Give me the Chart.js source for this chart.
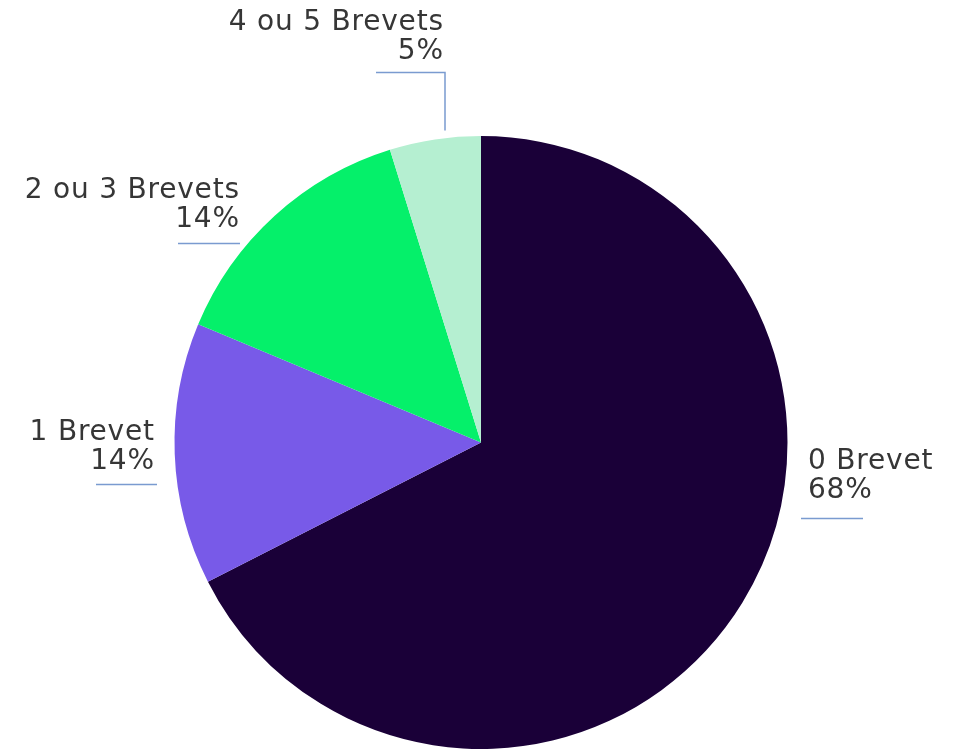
<!DOCTYPE html>
<html>
<head>
<meta charset="utf-8">
<script src="https://cdn.jsdelivr.net/npm/chart.js@4.4.1/dist/chart.umd.min.js"></script>
<style>
  html, body { margin: 0; padding: 0; background: #fff; }
  #wrap { width: 958px; height: 749px; }
</style>
</head>
<body>
<div id="wrap"><canvas id="pie"></canvas></div>
<script>
// donnees
var categories = ['0 Brevet', '1 Brevet', '2 ou 3 Brevets', '4 ou 5 Brevets'];
var values = [67.5, 13.8, 13.9, 4.8];
var colors = ['#1a0038', '#785ae8', '#05f06a', '#b5efd1'];

// position des etiquettes (decalage depuis le centre du camembert)
var labelLayout = [
    { align: 'left',  x: 327,  y: 19,   line: [320, 382, 76] },
    { align: 'right', x: -327, y: -10,  line: [-385, -324, 42] },
    { align: 'right', x: -242, y: -252, line: [-303, -241, -199] },
    { align: 'right', x: -38,  y: -420, line: [-105, -36, -370], drop: -312 }
];

var total = values.reduce((a, b) => a + b, 0);

var labelPlugin = {
    id: 'pieLabels',
    afterDraw: function (chart) {
        var ctx = chart.ctx;
        var arc = chart.getDatasetMeta(0).data[0];
        var cx = arc.x, cy = arc.y;
        ctx.save();
        for (var i in labelLayout) {
            var l = labelLayout[i];
            var pct = Math.round(values[i] / total * 100) + '%';
            ctx.font = '28px "DejaVu Sans"';
            ctx.letterSpacing = '0.8px';
            ctx.fillStyle = '#363636';
            ctx.textAlign = l.align;
            ctx.textBaseline = 'middle';
            // le letterSpacing ajoute un espace apres la derniere lettre
            var shift = l.align == 'right' ? 0.8 : 0;
            ctx.fillText(categories[i], cx + l.x + shift, cy + l.y);
            ctx.fillText(pct, cx + l.x + shift, cy + l.y + 29);

            ctx.strokeStyle = '#7a9bd0';
            ctx.lineWidth = 1.5;
            ctx.beginPath();
            ctx.moveTo(cx + l.line[0], cy + l.line[2]);
            ctx.lineTo(cx + l.line[1], cy + l.line[2]);
            if (l.drop) {
                ctx.lineTo(cx + l.line[1], cy + l.drop);
            }
            ctx.stroke();
        }
        ctx.restore();
    }
};

new Chart(document.getElementById('pie'), {
    type: 'pie',
    data: {
        labels: categories,
        datasets: [{
            data: values,
            backgroundColor: colors,
            borderWidth: 0
        }]
    },
    options: {
        responsive: true,
        maintainAspectRatio: false,
        animation: false,
        layout: {
            padding: { top: 136, left: 4, right: 0, bottom: 0 }
        },
        plugins: {
            legend: { display: false },
            tooltip: { enabled: false }
        }
    },
    plugins: [labelPlugin]
});
</script>
</body>
</html>
